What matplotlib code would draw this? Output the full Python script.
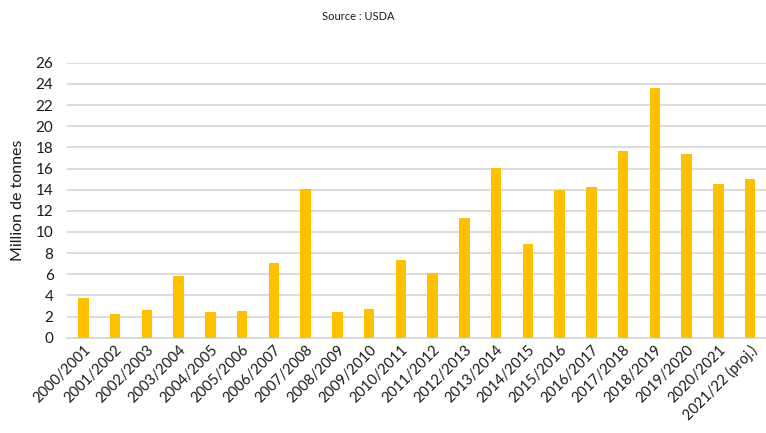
import numpy as np
import matplotlib.pyplot as plt

# Donnees
campagnes = ['2000/2001', '2001/2002', '2002/2003', '2003/2004', '2004/2005',
             '2005/2006', '2006/2007', '2007/2008', '2008/2009', '2009/2010',
             '2010/2011', '2011/2012', '2012/2013', '2013/2014', '2014/2015',
             '2015/2016', '2016/2017', '2017/2018', '2018/2019', '2019/2020',
             '2020/2021', '2021/22 (proj.)']
volumes = [3.73, 2.21, 2.65, 5.86, 2.46, 2.55, 7.09, 14.06, 2.46, 2.74,
           7.35, 6.12, 11.35, 16.01, 8.89, 13.93, 14.25, 17.62, 23.58, 17.34,
           14.50, 15.03]

TITRE = "Source : USDA"
YLABEL = "Million de tonnes"

plt.rcParams['font.family'] = ['Lato', 'DejaVu Sans']

fig = plt.figure(figsize=(7.66, 4.33), dpi=100)
ax = fig.add_axes([0.088, 0.22, 0.912, 0.635])

x = np.arange(len(campagnes))
ax.bar(x, volumes, width=0.33, color='#FFC000', zorder=3)

ax.set_xlim(-0.5, len(campagnes) - 0.5)
ax.set_ylim(0, 26)
ax.set_yticks(np.arange(0, 27, 2))
ax.grid(axis='y', color='#D9D9D9', linewidth=1.3, zorder=0)
for s in ['top', 'right', 'left']:
    ax.spines[s].set_visible(False)
ax.spines['bottom'].set_color('#D9D9D9')
ax.spines['bottom'].set_linewidth(1.3)
ax.tick_params(axis='both', length=0, labelsize=11, colors='#1a1a1a')
ax.tick_params(axis='y', pad=10)

ax.set_xticks(x)
ax.set_xticklabels(campagnes, rotation=45, ha='right', rotation_mode='anchor', fontsize=10.5)
ax.set_ylabel(YLABEL, fontsize=11.5, color='#1a1a1a', labelpad=8)

fig.text(0.468, 0.963, TITRE, ha='center', va='center', fontsize=8, color='#1a1a1a')

fig.savefig('out.png', dpi=100)
